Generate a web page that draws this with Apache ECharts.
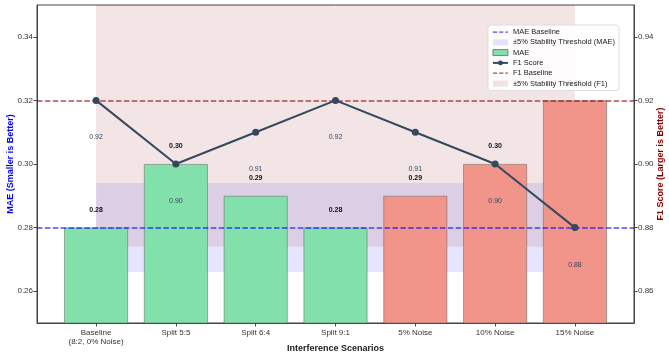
<!DOCTYPE html>
<html><head><meta charset="utf-8">
<script src="https://cdn.jsdelivr.net/npm/echarts/dist/echarts.min.js"></script>
<style>html,body{margin:0;padding:0;background:#fff}#c{width:669px;height:356px}</style>
</head><body><div id="c"></div>
<script>
// ---- data ----
const categories = ['Baseline\n(8:2, 0% Noise)', 'Split 5:5', 'Split 6:4', 'Split 9:1', '5% Noise', '10% Noise', '15% Noise'];
const maeValues = [0.28, 0.30, 0.29, 0.28, 0.29, 0.30, 0.32];
const f1Values = [0.92, 0.90, 0.91, 0.92, 0.91, 0.90, 0.88];
const scenarioGroup = ['split', 'split', 'split', 'split', 'noise', 'noise', 'noise'];
const maeTicks = [0.26, 0.28, 0.30, 0.32, 0.34];
const f1Ticks = [0.86, 0.88, 0.90, 0.92, 0.94];
const maeRange = [0.25, 0.35];
const f1Range = [0.85, 0.95];
const maeBaseline = 0.28;
const f1Baseline = 0.92;
const stabilityPct = 0.05;

// ---- style ----
const FONT = "'Liberation Sans', Arial, sans-serif";
const groupColor = { split: '#82e0aa', noise: '#f1948a' };
const lineColor = '#34495e';
const maeBaseColor = 'rgba(0,0,255,0.7)';
const f1BaseColor = 'rgba(139,0,0,0.7)';
const maeBandColor = 'rgba(0,0,255,0.1)';
const f1BandColor = 'rgba(139,0,0,0.1)';
const axisColor = '#444';
const dashIcon = 'path://M0,0h5v1.5h-5z M7.5,0h5v1.5h-5z M15,0h3v1.5h-3z';
const idx = categories.map((_, i) => i);
const xMin = -0.74, xMax = categories.length - 1 + 0.74;

const chart = echarts.init(document.getElementById('c'), null, { renderer: 'canvas' });

const yAxisCommon = {
  type: 'value',
  splitLine: { show: false },
  axisLine: { show: true, onZero: false, lineStyle: { color: axisColor, width: 1 } },
  axisTick: { show: true, length: 3.5, lineStyle: { color: axisColor } },
  axisLabel: { fontSize: 8, color: '#333', fontFamily: FONT, margin: 4, formatter: v => v.toFixed(2) },
  nameLocation: 'middle',
  nameMoveOverlap: false,
  nameTextStyle: { fontSize: 9, fontWeight: 'bold', fontFamily: FONT }
};

const option = {
  animation: false,
  textStyle: { fontFamily: FONT },
  grid: { left: 37, right: 35, top: 5, bottom: 33, containLabel: false, outerBoundsMode: 'none',
    show: true, borderColor: axisColor, borderWidth: 1, backgroundColor: 'transparent' },
  legend: {
    orient: 'vertical', right: 50, top: 25,
    itemWidth: 15, itemHeight: 6, itemGap: 2.3,
    padding: [3, 4, 3, 4],
    backgroundColor: 'rgba(255,255,255,0.85)', borderColor: '#ddd', borderWidth: 1, borderRadius: 3,
    textStyle: { fontSize: 7.5, color: '#222', fontFamily: FONT },
    data: [
      { name: 'MAE Baseline', icon: dashIcon, itemStyle: { color: maeBaseColor } },
      { name: '±5% Stability Threshold (MAE)', icon: 'rect', itemStyle: { color: maeBandColor } },
      { name: 'MAE', icon: 'rect', itemStyle: { color: groupColor.split, borderColor: '#666', borderWidth: 0.8 } },
      { name: 'F1 Score' },
      { name: 'F1 Baseline', icon: dashIcon, itemStyle: { color: f1BaseColor } },
      { name: '±5% Stability Threshold (F1)', icon: 'rect', itemStyle: { color: f1BandColor } }
    ]
  },
  xAxis: {
    type: 'value', min: xMin, max: xMax,
    splitLine: { show: false },
    axisLine: { show: true, onZero: false, lineStyle: { color: axisColor } },
    axisTick: { show: true, length: 3.5, customValues: idx, lineStyle: { color: axisColor } },
    axisLabel: { customValues: idx, fontSize: 8, color: '#333', lineHeight: 9, margin: 5, fontFamily: FONT,
      formatter: v => categories[Math.round(v)] },
    name: 'Interference Scenarios', nameLocation: 'middle', nameGap: 21, nameMoveOverlap: false,
    nameTextStyle: { fontSize: 9, fontWeight: 'bold', color: '#222', fontFamily: FONT }
  },
  yAxis: [
    Object.assign({}, yAxisCommon, {
      min: maeRange[0], max: maeRange[1], position: 'left',
      axisTick: Object.assign({}, yAxisCommon.axisTick, { customValues: maeTicks }),
      axisLabel: Object.assign({}, yAxisCommon.axisLabel, { customValues: maeTicks }),
      name: 'MAE (Smaller is Better)', nameGap: 22,
      nameTextStyle: Object.assign({}, yAxisCommon.nameTextStyle, { color: '#0000ff' })
    }),
    Object.assign({}, yAxisCommon, {
      min: f1Range[0], max: f1Range[1], position: 'right',
      axisTick: Object.assign({}, yAxisCommon.axisTick, { customValues: f1Ticks }),
      axisLabel: Object.assign({}, yAxisCommon.axisLabel, { customValues: f1Ticks }),
      name: 'F1 Score (Larger is Better)', nameGap: 22, nameRotate: 90,
      nameTextStyle: Object.assign({}, yAxisCommon.nameTextStyle, { color: '#8b0000' })
    })
  ],
  series: [
    {
      name: 'MAE', type: 'bar', yAxisIndex: 0, z: 2, barWidth: 64,
      itemStyle: { color: groupColor.split, borderColor: 'rgba(90,90,90,0.6)', borderWidth: 0.8 },
      data: maeValues.map((v, i) => ({ value: [i, v], itemStyle: { color: groupColor[scenarioGroup[i]] } })),
      label: { show: true, position: 'top', distance: 14, fontSize: 7, fontWeight: 'bold', color: '#111', fontFamily: FONT,
        formatter: p => p.value[1].toFixed(2) }
    },
    {
      name: '±5% Stability Threshold (MAE)', type: 'line', yAxisIndex: 0, z: 3, data: [],
      itemStyle: { color: maeBandColor },
      markArea: { silent: true, itemStyle: { color: maeBandColor },
        data: [[{ xAxis: 0, yAxis: maeBaseline * (1 - stabilityPct) }, { xAxis: categories.length - 1, yAxis: Math.min(maeBaseline * (1 + stabilityPct), maeRange[1]) }]] }
    },
    {
      name: 'MAE Baseline', type: 'line', yAxisIndex: 0, z: 5, data: [], symbol: 'none',
      itemStyle: { color: maeBaseColor },
      lineStyle: { color: maeBaseColor, type: [5.5, 2.4], width: 1.5 },
      markLine: { silent: true, symbol: 'none', label: { show: false },
        lineStyle: { color: maeBaseColor, type: [5.5, 2.4], width: 1.5 },
        data: [{ yAxis: maeBaseline }] }
    },
    {
      name: '±5% Stability Threshold (F1)', type: 'line', yAxisIndex: 1, z: 6, data: [],
      itemStyle: { color: f1BandColor },
      markArea: { silent: true, itemStyle: { color: f1BandColor },
        data: [[{ xAxis: 0, yAxis: f1Baseline * (1 - stabilityPct) }, { xAxis: categories.length - 1, yAxis: Math.min(f1Baseline * (1 + stabilityPct), f1Range[1]) }]] }
    },
    {
      name: 'F1 Baseline', type: 'line', yAxisIndex: 1, z: 7, data: [], symbol: 'none',
      itemStyle: { color: f1BaseColor },
      lineStyle: { color: f1BaseColor, type: [5.5, 2.4], width: 1.5 },
      markLine: { silent: true, symbol: 'none', label: { show: false },
        lineStyle: { color: f1BaseColor, type: [5.5, 2.4], width: 1.5 },
        data: [{ yAxis: f1Baseline }] }
    },
    {
      name: 'F1 Score', type: 'line', yAxisIndex: 1, z: 10,
      data: f1Values.map((v, i) => [i, v]),
      symbol: 'circle', symbolSize: 7,
      itemStyle: { color: lineColor },
      lineStyle: { color: lineColor, width: 2 },
      label: { show: true, position: 'bottom', distance: 30, fontSize: 7, color: lineColor, fontFamily: FONT,
        formatter: p => p.value[1].toFixed(2) }
    }
  ]
};
chart.setOption(option);
</script>
</body></html>
